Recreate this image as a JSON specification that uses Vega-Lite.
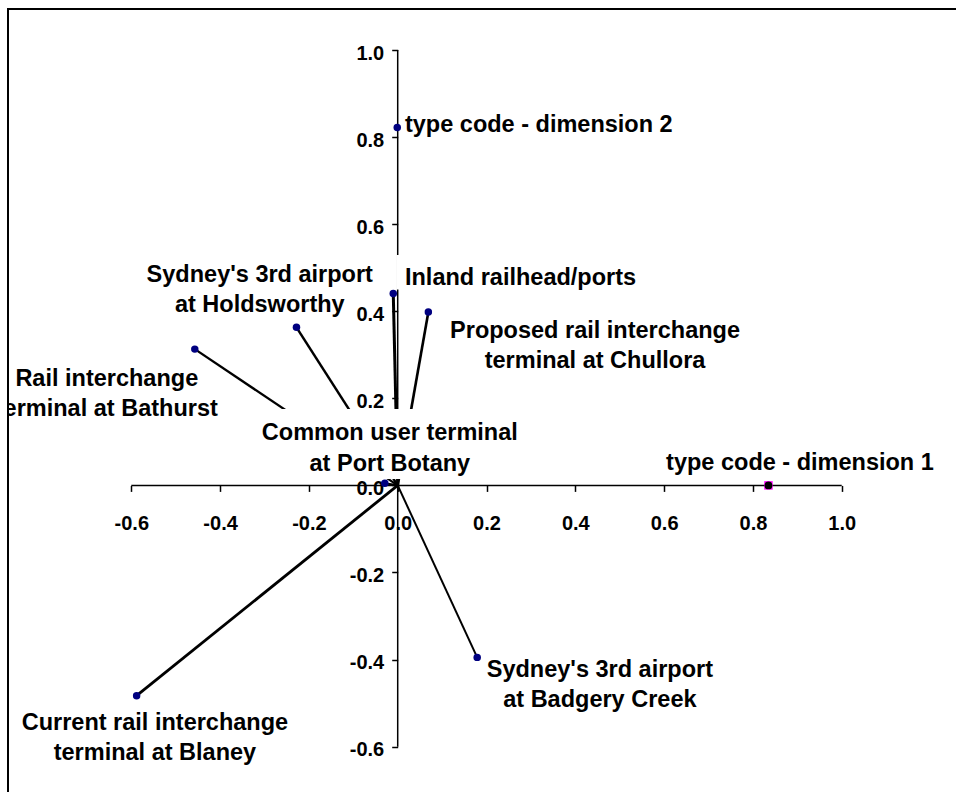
{
  "$schema": "https://vega.github.io/schema/vega-lite/v6.json",
  "width": 948,
  "height": 783,
  "autosize": {"type": "none"},
  "padding": {"left": 8, "top": 9, "right": 0, "bottom": 0},
  "background": "white",
  "config": {
    "view": {"stroke": "black", "strokeWidth": 2, "strokeDash": [948, 1731, 783]},
    "text": {"font": "Liberation Sans", "fontWeight": "bold", "fontSize": 23.5, "color": "black", "baseline": "alphabetic"}
  },
  "datasets": {
    "points": [
      {"id": "dim2", "kind": "type code", "name": "type code - dimension 2", "x": -0.001, "y": 0.822},
      {"id": "dim1", "kind": "type code", "name": "type code - dimension 1", "x": 0.835, "y": 0.0},
      {"id": "inland", "kind": "site", "name": "Inland railhead/ports", "x": -0.010, "y": 0.441},
      {"id": "chullora", "kind": "site", "name": "Proposed rail interchange\nterminal at Chullora", "x": 0.069, "y": 0.398},
      {"id": "hold", "kind": "site", "name": "Sydney's 3rd airport\nat Holdsworthy", "x": -0.228, "y": 0.363},
      {"id": "bathurst", "kind": "site", "name": "Rail interchange\nterminal at Bathurst", "x": -0.457, "y": 0.313},
      {"id": "botany", "kind": "site", "name": "Common user terminal\nat Port Botany", "x": -0.029, "y": 0.005},
      {"id": "badgery", "kind": "site", "name": "Sydney's 3rd airport\nat Badgery Creek", "x": 0.179, "y": -0.395},
      {"id": "blaney", "kind": "site", "name": "Current rail interchange\nterminal at Blaney", "x": -0.588, "y": -0.483}
    ],
    "axislines": [
      {"x": -0.6, "x2": 1.0, "y": 0, "y2": 0},
      {"x": 0, "x2": 0, "y": -0.6, "y2": 1.0}
    ]
  },
  "data": {"name": "points"},
  "encoding": {
    "x": {
      "field": "x", "type": "quantitative",
      "scale": {"domain": [-0.8777, 1.2574], "nice": false, "zero": false},
      "axis": {
        "values": [-0.6, -0.4, -0.2, 0, 0.2, 0.4, 0.6, 0.8, 1.0],
        "orient": "bottom", "offset": -306.6, "domain": false, "grid": false,
        "ticks": true, "tickSize": 6, "tickColor": "black", "tickWidth": 1.5,
        "labelFont": "Liberation Sans", "labelFontWeight": "bold", "labelFontSize": 20,
        "labelColor": "black", "labelPadding": 22, "labelOverlap": false, "labelFlush": false,
        "labelExpr": "datum.value < 0 ? '-' + format(-datum.value, '.1f') : format(datum.value, '.1f')",
        "title": null
      }
    },
    "y": {
      "field": "y", "type": "quantitative",
      "scale": {"domain": [-0.7042, 1.0942], "nice": false, "zero": false},
      "axis": {
        "values": [-0.6, -0.4, -0.2, 0, 0.2, 0.4, 0.6, 0.8, 1.0],
        "orient": "left", "offset": -389.7, "domain": false, "grid": false,
        "ticks": true, "tickSize": 6, "tickColor": "black", "tickWidth": 1.5,
        "labelFont": "Liberation Sans", "labelFontWeight": "bold", "labelFontSize": 20,
        "labelColor": "black", "labelPadding": 8, "labelOffset": 3, "labelOverlap": false, "labelFlush": false,
        "labelExpr": "datum.value < 0 ? '-' + format(-datum.value, '.1f') : format(datum.value, '.1f')",
        "title": null
      }
    }
  },
  "layer": [
    {
      "transform": [{"filter": "datum.kind === 'site'"}],
      "mark": {"type": "rule", "color": "black"},
      "encoding": {
        "x2": {"datum": 0},
        "y2": {"datum": 0},
        "strokeWidth": {
          "field": "id", "type": "nominal",
          "scale": {"domain": ["inland", "blaney", "chullora", "hold", "bathurst", "botany", "badgery"], "range": [3, 2, 1.4, 1.4, 1.4, 1.4, 1.4]},
          "legend": null
        }
      }
    },
    {
      "data": {"name": "axislines"},
      "mark": {"type": "rule", "color": "black", "strokeWidth": 1.5},
      "encoding": {"x2": {"field": "x2"}, "y2": {"field": "y2"}}
    },
    {
      "transform": [{"filter": "datum.id === 'botany'"}],
      "mark": {"type": "rect", "fill": "white", "xOffset": -130, "x2Offset": 140, "yOffset": -74.3, "y2Offset": -4.3},
      "encoding": {"x2": {"field": "x"}, "y2": {"field": "y"}}
    },
    {
      "transform": [{"filter": "datum.id === 'inland'"}],
      "mark": {"type": "rect", "fill": "white", "xOffset": 3.2, "x2Offset": 252, "yOffset": -38.3, "y2Offset": -4},
      "encoding": {"x2": {"field": "x"}, "y2": {"field": "y"}}
    },
    {
      "transform": [{"filter": "datum.id !== 'dim1'"}],
      "mark": {"type": "point", "shape": "circle", "filled": true, "color": "#000080", "size": 56, "opacity": 1}
    },
    {
      "transform": [{"filter": "datum.id === 'dim1'"}],
      "mark": {"type": "square", "filled": true, "color": "#ff00ff", "size": 72, "opacity": 1}
    },
    {
      "transform": [{"filter": "datum.id === 'dim1'"}],
      "mark": {"type": "point", "shape": "circle", "filled": true, "color": "black", "size": 60, "opacity": 1}
    },
    {
      "transform": [{"filter": "datum.id === 'dim2'"}],
      "mark": {"type": "text", "align": "left", "dx": 7.7, "dy": 4.4},
      "encoding": {"text": {"field": "name"}}
    },
    {
      "transform": [{"filter": "datum.id === 'dim1'"}],
      "mark": {"type": "text", "align": "center", "dx": 31.5, "dy": -15.4},
      "encoding": {"text": {"field": "name"}}
    },
    {
      "transform": [{"filter": "datum.id === 'inland'"}],
      "mark": {"type": "text", "align": "left", "dx": 11.7, "dy": -8.3},
      "encoding": {"text": {"field": "name"}}
    },
    {
      "transform": [{"filter": "datum.id === 'chullora'"}],
      "mark": {"type": "text", "align": "center", "dx": 166.7, "dy": 26, "lineBreak": "\n", "lineHeight": 30},
      "encoding": {"text": {"field": "name"}}
    },
    {
      "transform": [{"filter": "datum.id === 'hold'"}],
      "mark": {"type": "text", "align": "center", "dx": -36.7, "dy": -45.8, "lineBreak": "\n", "lineHeight": 30},
      "encoding": {"text": {"field": "name"}}
    },
    {
      "transform": [{"filter": "datum.id === 'bathurst'"}],
      "mark": {"type": "text", "align": "center", "dx": -88, "dy": 36.7, "lineBreak": "\n", "lineHeight": 30, "clip": true},
      "encoding": {"text": {"field": "name"}}
    },
    {
      "transform": [{"filter": "datum.id === 'botany'"}],
      "mark": {"type": "text", "align": "center", "dx": 5, "dy": -43.3, "lineBreak": "\n", "lineHeight": 31.5},
      "encoding": {"text": {"field": "name"}}
    },
    {
      "transform": [{"filter": "datum.id === 'badgery'"}],
      "mark": {"type": "text", "align": "center", "dx": 122.7, "dy": 19.7, "lineBreak": "\n", "lineHeight": 30},
      "encoding": {"text": {"field": "name"}}
    },
    {
      "transform": [{"filter": "datum.id === 'blaney'"}],
      "mark": {"type": "text", "align": "center", "dx": 18.3, "dy": 34.8, "lineBreak": "\n", "lineHeight": 30},
      "encoding": {"text": {"field": "name"}}
    }
  ]
}
